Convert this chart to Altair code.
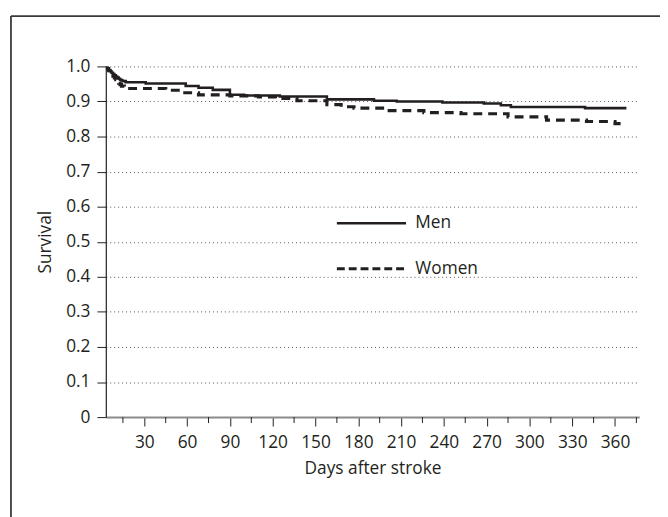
import altair as alt
import pandas as pd

# ---- data ----
men_days = [3, 4, 5, 6, 7, 8, 9, 10, 11, 12, 13, 14, 15, 17,
            31, 59, 68, 78, 90, 100, 125, 158, 191, 207, 239, 268, 280, 287, 339, 368]
men_surv = [1.0, 0.995, 0.99, 0.986, 0.982, 0.978, 0.975, 0.971, 0.968, 0.965, 0.962, 0.96, 0.958, 0.955,
            0.951, 0.944, 0.939, 0.933, 0.919, 0.917, 0.914, 0.906, 0.902, 0.900, 0.897, 0.894, 0.889, 0.884, 0.881, 0.881]

women_days = [3, 4, 5, 6, 7, 8, 9, 10, 11, 12, 13, 14, 16, 18,
              45, 55, 68, 90, 110, 122, 137, 158, 168, 177, 200, 226, 252, 285, 312, 340, 360, 368]
women_surv = [1.0, 0.994, 0.988, 0.982, 0.977, 0.972, 0.967, 0.962, 0.957, 0.952, 0.948, 0.944, 0.94, 0.937,
              0.932, 0.925, 0.919, 0.916, 0.913, 0.909, 0.902, 0.891, 0.885, 0.881, 0.874, 0.868, 0.865, 0.856,
              0.847, 0.843, 0.837, 0.837]

x_major = [30, 60, 90, 120, 150, 180, 210, 240, 270, 300, 330, 360]
x_minor = [15, 45, 75, 105, 135, 165, 195, 225, 255, 285, 315, 345, 375]
y_ticks = [0, 0.1, 0.2, 0.3, 0.4, 0.5, 0.6, 0.7, 0.8, 0.9, 1.0]

legend_labels = ["Men", "Women"]
legend_y = [0.553, 0.423]
legend_x1 = [165, 165]
legend_x2 = [213.5, 213.5]
legend_tx = [220, 220]

W, H = 540, 355
INK = "#231f20"
FONT = "Open Sans"
FS = 17.5

men_df = pd.DataFrame({"day": men_days, "surv": men_surv})
women_df = pd.DataFrame({"day": women_days, "surv": women_surv})
minor_df = pd.DataFrame({"d": x_minor})
leg_df = pd.DataFrame({"label": legend_labels, "y": legend_y, "x1": legend_x1,
                       "x2": legend_x2, "tx": legend_tx})

x_scale = alt.Scale(domain=[3, 377], nice=False, zero=False)
y_scale = alt.Scale(domain=[0, 1], nice=False)

x_axis = alt.Axis(values=x_major, tickCount=20, title="Days after stroke", grid=False, tickSize=9,
                  tickColor=INK, domainColor="#8c8c8c", domainWidth=2, labelPadding=8,
                  titlePadding=9, labelFlush=False, labelOverlap=False)
y_axis = alt.Axis(values=y_ticks, tickCount=20, title="Survival", grid=True, gridDash=[1, 3],
                  gridColor="#555555", gridWidth=1, tickSize=9, tickColor=INK, domainColor=INK,
                  domainWidth=1.2, labelPadding=7, titlePadding=11, labelOverlap=False, labelFlush=False,
                  labelExpr="datum.value == 0 ? '0' : format(datum.value, '.1f')")

men_line = alt.Chart(men_df).mark_line(interpolate="step-after", color=INK, strokeWidth=2.6,
                                       clip=True).encode(
    x=alt.X("day:Q", scale=x_scale, axis=x_axis),
    y=alt.Y("surv:Q", scale=y_scale, axis=y_axis),
)
women_line = alt.Chart(women_df).mark_line(interpolate="step-after", color=INK, strokeWidth=3.2,
                                           strokeDash=[9, 6], clip=True).encode(
    x=alt.X("day:Q", scale=x_scale),
    y=alt.Y("surv:Q", scale=y_scale),
)

minor_ticks = alt.Chart(minor_df).mark_rule(color=INK, strokeWidth=1).encode(
    x=alt.X("d:Q", scale=x_scale),
    y=alt.value(H),
    y2=alt.value(H + 6),
)

leg_men = alt.Chart(leg_df).transform_filter(alt.datum.label == "Men").mark_rule(
    color=INK, strokeWidth=2.6).encode(
    x=alt.X("x1:Q", scale=x_scale), x2="x2:Q", y=alt.Y("y:Q", scale=y_scale))
leg_women = alt.Chart(leg_df).transform_filter(alt.datum.label == "Women").mark_rule(
    color=INK, strokeWidth=3.2, strokeDash=[8, 4]).encode(
    x=alt.X("x1:Q", scale=x_scale), x2="x2:Q", y=alt.Y("y:Q", scale=y_scale))
leg_text = alt.Chart(leg_df).mark_text(align="left", baseline="middle", font=FONT, fontSize=FS,
                                       color=INK).encode(
    x=alt.X("tx:Q", scale=x_scale), y=alt.Y("y:Q", scale=y_scale), text="label:N")

frame_df = pd.DataFrame({"a": [0]})
frame_top = alt.Chart(frame_df).mark_rule(color="#3a3a3a", strokeWidth=1.8).encode(
    x=alt.value(-96), x2=alt.value(W + 30), y=alt.value(-51))
frame_left = alt.Chart(frame_df).mark_rule(color="#3a3a3a", strokeWidth=1.8).encode(
    x=alt.value(-96), y=alt.value(-51), y2=alt.value(H + 110))

chart = alt.layer(
    minor_ticks, men_line, women_line, leg_men, leg_women, leg_text, frame_top, frame_left
).properties(
    width=W, height=H,
    autosize=alt.AutoSizeParams(type="none"),
    padding={"left": 99, "top": 56, "right": 21, "bottom": 98},
).configure_view(stroke=None).configure_axis(
    labelFont=FONT, titleFont=FONT, labelFontSize=FS, titleFontSize=FS,
    labelColor=INK, titleColor=INK, titleFontWeight="normal",
)

chart.save("out.html", embed_options={"renderer": "svg", "actions": False})
